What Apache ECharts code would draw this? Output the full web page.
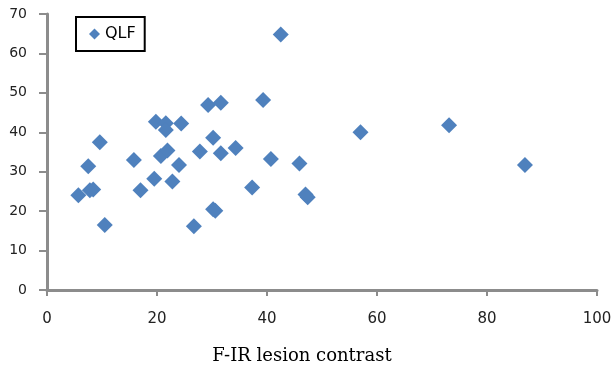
<!DOCTYPE html>
<html>
<head>
<meta charset="utf-8">
<script src="https://cdn.jsdelivr.net/npm/echarts@6/dist/echarts.min.js"></script>
<style>
  html, body { margin: 0; padding: 0; background: #fff; }
  #chart { width: 612px; height: 367px; }
</style>
</head>
<body>
<div id="chart"></div>
<script>
// F-IR lesion contrast (x) vs QLF (y)
var firContrast = [5.7, 7.5, 7.8, 8.4, 9.6, 10.5, 15.8, 17.0, 19.5, 19.8, 21.6, 21.6,
  20.7, 21.9, 22.8, 24.0, 24.4, 26.7, 27.8, 29.3, 31.6, 30.2, 30.2, 30.6, 31.6, 34.3,
  37.3, 39.3, 40.7, 42.5, 45.9, 47.0, 47.4, 57.0, 73.1, 86.9]
var qlf = [24.0, 31.4, 25.3, 25.5, 37.5, 16.5, 33.0, 25.3, 28.2, 42.7, 42.3, 40.6,
  34.0, 35.4, 27.5, 31.7, 42.2, 16.2, 35.1, 46.9, 47.5, 38.6, 20.5, 20.1, 34.7, 36.0,
  26.0, 48.2, 33.2, 64.8, 32.1, 24.2, 23.5, 40.0, 41.8, 31.7]
var seriesName = 'QLF'
var xTitle = 'F-IR lesion contrast'

var points = []
for (let i = 0; i < firContrast.length; i++) {
  points.push([firContrast[i], qlf[i]])
}

var chart = echarts.init(document.getElementById('chart'), null, { renderer: 'canvas' })
var axisGray = '#8c8c8c'
var option = {
  backgroundColor: '#fff',
  animation: false,
  grid: { left: 47, right: 15, top: 14, bottom: 77, outerBoundsMode: 'none', containLabel: false },
  legend: {
    left: 76,
    top: 17,
    data: [seriesName],
    icon: 'diamond',
    itemWidth: 11,
    itemHeight: 11,
    padding: [9, 9, 9, 13],
    borderColor: '#000',
    borderWidth: 2,
    textStyle: { fontFamily: 'DejaVu Sans', fontSize: 16, color: '#000' }
  },
  xAxis: {
    type: 'value',
    min: 0,
    max: 100,
    interval: 20,
    name: xTitle,
    nameLocation: 'middle',
    nameGap: 57,
    nameTextStyle: { fontFamily: 'DejaVu Serif', fontSize: 18, color: '#000', padding: [0, 40, 0, 0] },
    splitLine: { show: false },
    axisLine: { lineStyle: { color: axisGray, width: 3 } },
    axisTick: { show: true, length: 6, lineStyle: { color: axisGray, width: 2 } },
    axisLabel: { margin: 22, fontFamily: 'DejaVu Sans', fontSize: 15, color: '#222' }
  },
  yAxis: {
    type: 'value',
    min: 0,
    max: 70,
    interval: 10,
    splitLine: { show: false },
    axisLine: { show: true, lineStyle: { color: axisGray, width: 3 } },
    axisTick: { show: true, length: 8, lineStyle: { color: axisGray, width: 2 } },
    axisLabel: { margin: 20, fontFamily: 'DejaVu Sans', fontSize: 14, color: '#222' }
  },
  series: [
    {
      name: seriesName,
      type: 'scatter',
      symbol: 'diamond',
      symbolSize: 16,
      itemStyle: { color: '#4F81BD', opacity: 1 },
      data: points
    }
  ]
}
chart.setOption(option)
</script>
</body>
</html>
